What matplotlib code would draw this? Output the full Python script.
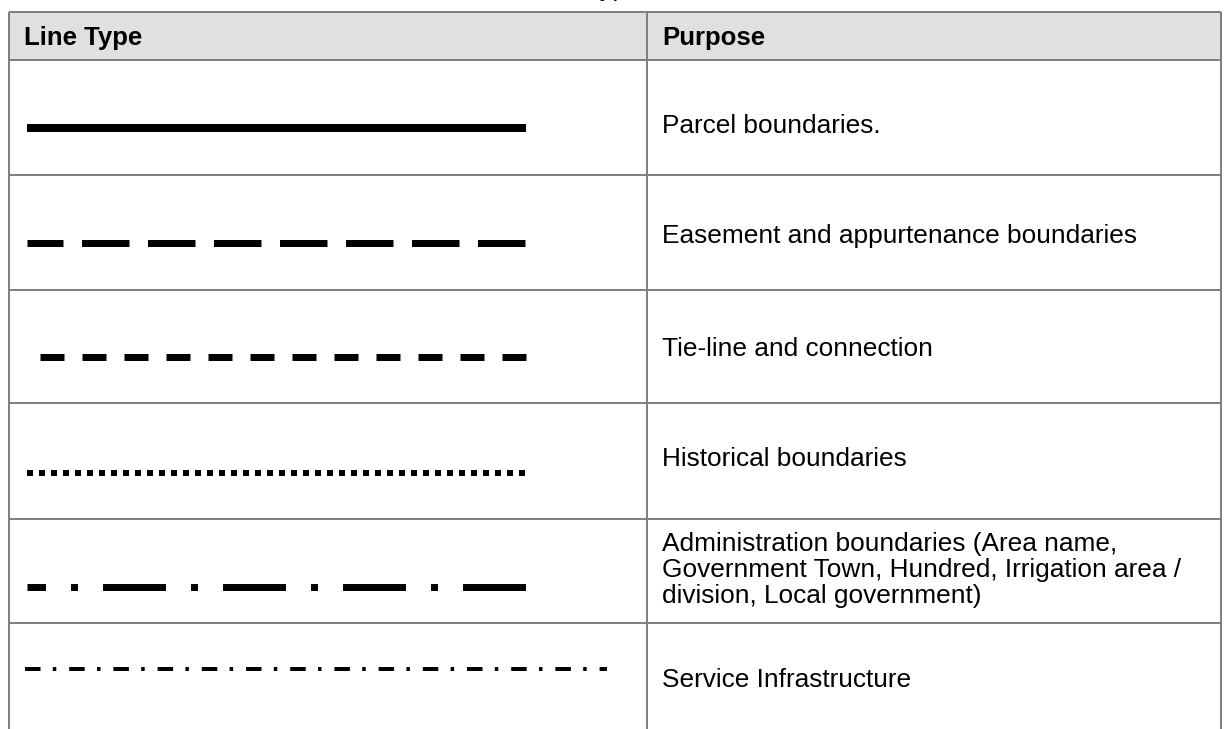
import matplotlib
matplotlib.use("Agg")
import matplotlib.pyplot as plt

# table content
headers = ["Line Type", "Purpose"]
purposes = [
    "Parcel boundaries.",
    "Easement and appurtenance boundaries",
    "Tie-line and connection",
    "Historical boundaries",
    "Administration boundaries (Area name,\nGovernment Town, Hundred, Irrigation area /\ndivision, Local government)",
    "Service Infrastructure",
]
line_kinds = ["solid", "long dash", "dash", "dotted", "dash dot", "fine dash dot"]
title = "Line Types"

# layout (pixels, figure is 1230 x 729 at 100 dpi)
W, H = 1230, 729
px = 0.72  # 1 px in points
row_edges = [12, 60, 175, 290, 403, 519, 623]
col_x = [9, 647, 1221]
line_y = [128, 243, 357, 473, 587, 669]
text_y = [126, 236, 349, 459, 570, 680]

# dash styles in px: (x start, x end, width, dash pattern, offset)
styles = {
    "solid": (27, 526, 8, None, 0),
    "long dash": (27, 526, 7, [47.5, 18.5], 11.5),
    "dash": (39.5, 526, 7, [24, 18], 0),
    "dotted": (27, 526, 6, [6, 6], 0),
    "dash dot": (27, 526, 7, [63, 25, 7, 25], 44.5),
    "fine dash dot": (25, 607, 4, [15.5, 12.3, 3.5, 12.9], 0),
}

plt.rcParams['font.family'] = ['Liberation Sans', 'DejaVu Sans']
plt.rcParams['lines.scale_dashes'] = False

fig = plt.figure(figsize=(W / 100, H / 100), dpi=100)
ax = fig.add_axes([0, 0, 1, 1])
ax.set_xlim(0, W)
ax.set_ylim(H, 0)
ax.axis('off')

grid = '#808080'
lw_grid = 2 * px

# header background
ax.fill_between([col_x[0], col_x[2]], row_edges[0], row_edges[1], color='#E0E0E0', lw=0)

# horizontal rules
for y in row_edges:
    ax.plot([col_x[0], col_x[2]], [y, y], color=grid, lw=lw_grid, solid_capstyle='butt')
# vertical rules
for x in col_x:
    ax.plot([x, x], [row_edges[0], H], color=grid, lw=lw_grid, solid_capstyle='butt')

# title sits above the crop, only the descenders show
ax.text(532, -4, title, fontsize=18.5, style='italic', ha='left', va='baseline')

# header text
ax.text(24, 45, headers[0], fontsize=18.5, fontweight='bold', va='baseline')
ax.text(662, 45, headers[1], fontsize=18.5, fontweight='bold', va='baseline')

# rows
for kind, purpose, ly, ty in zip(line_kinds, purposes, line_y, text_y):
    x0, x1, w, dashes, off = styles[kind]
    if dashes is None:
        ax.plot([x0, x1], [ly, ly], color='black', lw=w * px, solid_capstyle='butt')
    else:
        ax.plot([x0, x1], [ly, ly], color='black', lw=w * px, dash_capstyle='butt',
                linestyle=(off * px, [d * px for d in dashes]))
    ax.text(662, ty, purpose, fontsize=18.9, va='center', ha='left', linespacing=1.1)

fig.savefig('out.png', dpi=100)
